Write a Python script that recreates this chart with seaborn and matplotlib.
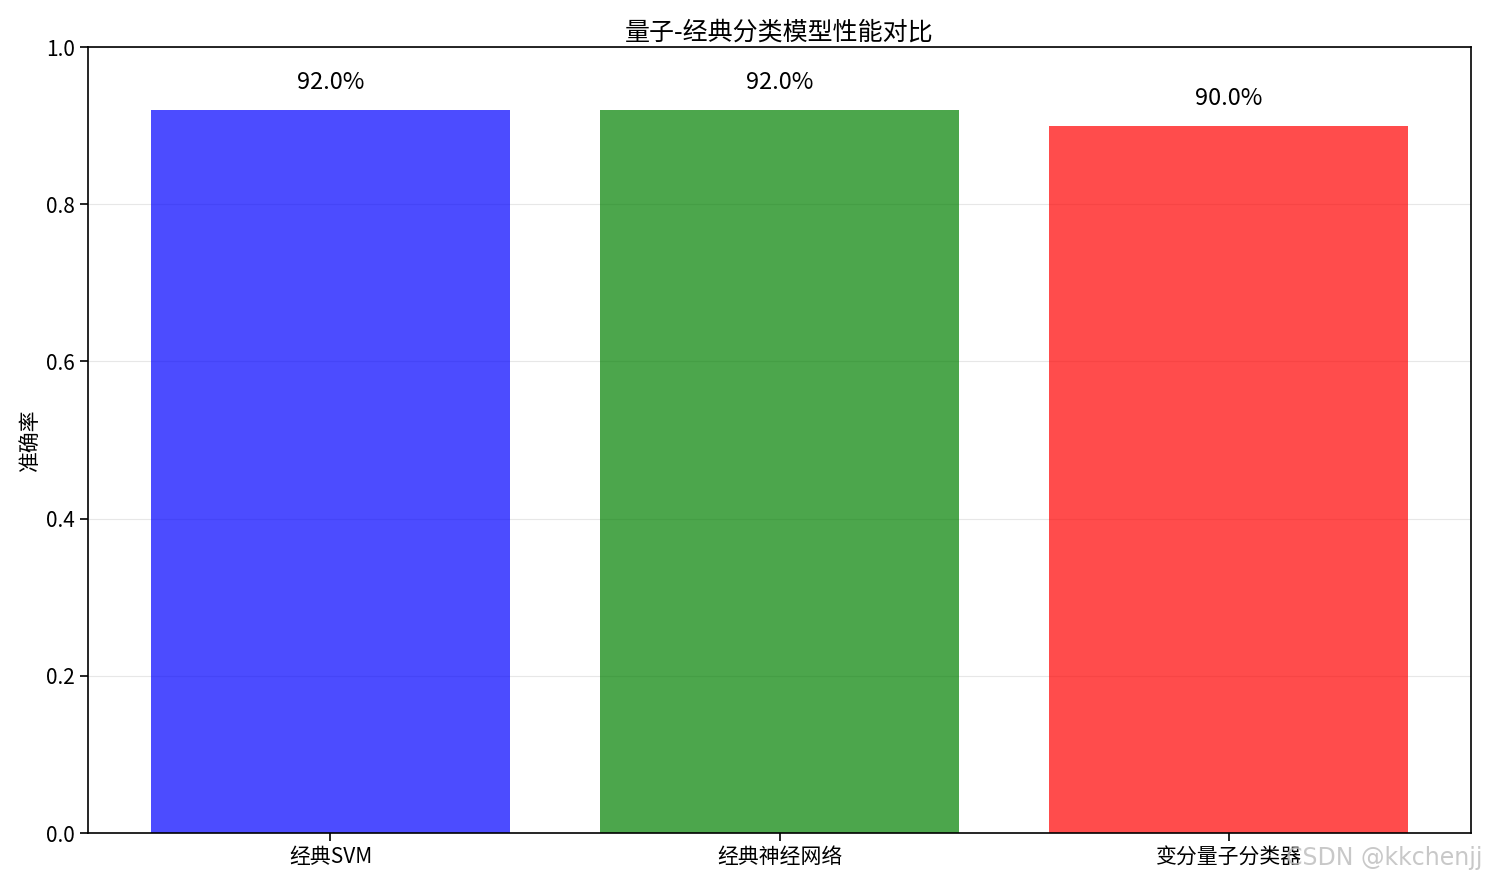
import matplotlib
matplotlib.use("Agg")
import matplotlib.pyplot as plt
import seaborn as sns

models = ["经典SVM", "经典神经网络", "变分量子分类器"]
accuracy = [0.92, 0.92, 0.90]
colors = ["blue", "green", "red"]

plt.rcParams['font.family'] = ['Noto Sans CJK SC', 'DejaVu Sans']
plt.rcParams['axes.unicode_minus'] = False

fig = plt.figure(figsize=(14.85, 8.83), dpi=100)
ax = fig.add_axes([88/1485, 1-833/883, (1471-88)/1485, (833-47)/883])

sns.barplot(x=models, y=accuracy, hue=models, palette=colors, alpha=0.7,
            saturation=1, legend=False, ax=ax, width=0.8, linewidth=0)
ax.set_xlim(-0.54, 2.54)
ax.set_ylim(0, 1.0)
ax.set_yticks([0.0, 0.2, 0.4, 0.6, 0.8, 1.0])
ax.yaxis.grid(True, alpha=0.3)
ax.set_axisbelow(True)
for s in ax.spines.values():
    s.set_linewidth(1.2)
ax.tick_params(axis='both', labelsize=15, width=1.2, length=6)
ax.set_ylabel("准确率", fontsize=15)
ax.set_xlabel("")
ax.set_title("量子-经典分类模型性能对比", fontsize=18, pad=5)

for i, v in enumerate(accuracy):
    ax.text(i, v + 0.02, f"{v*100:.1f}%", ha='center', va='bottom', fontsize=17)

fig.text(1482/1485, 1-858/883, "CSDN @kkchenjj", ha='right', va='center',
         fontsize=17, color='#bbbbbb', alpha=0.8, family=['DejaVu Sans'])

fig.savefig("out.png", dpi=100)
